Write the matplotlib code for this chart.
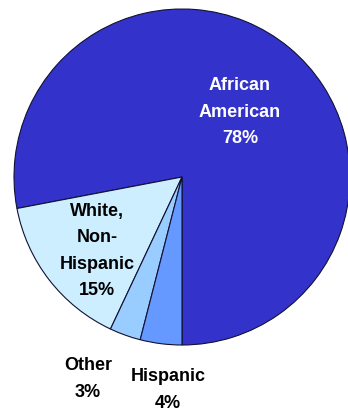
import matplotlib.pyplot as plt

groups = ["African American", "White, Non-Hispanic", "Other", "Hispanic"]
shares = [78, 15, 3, 4]
labels = ["African\nAmerican\n78%", "White,\nNon-\nHispanic\n15%", "Other\n3%", "Hispanic\n4%"]
colors = ["#3333cc", "#cceeff", "#99ccff", "#6699ff"]

fig = plt.figure(figsize=(3.48, 4.12), dpi=100)
ax = fig.add_axes([0, 0, 1, 1])

# pie in pixel-like coords, starting at six o'clock, counterclockwise
ax.pie(shares, colors=colors, startangle=-90, counterclock=True,
       center=(182, 235), radius=168, frame=True,
       wedgeprops=dict(edgecolor="#111133", linewidth=0.8))
ax.set_xlim(0, 348)
ax.set_ylim(0, 412)
ax.set_aspect("equal")
ax.axis("off")

font = dict(family="Liberation Sans", fontweight="bold", fontsize=13,
            ha="center", va="center", linespacing=1.72)
ax.text(240, 412 - 112, labels[0], color="white", **font)
ax.text(97, 412 - 251, labels[1], color="black", **font)
ax.text(88, 412 - 379, labels[2], color="black", **font)
ax.text(168, 412 - 390, labels[3], color="black", **font)

fig.savefig("out.png", dpi=100)
